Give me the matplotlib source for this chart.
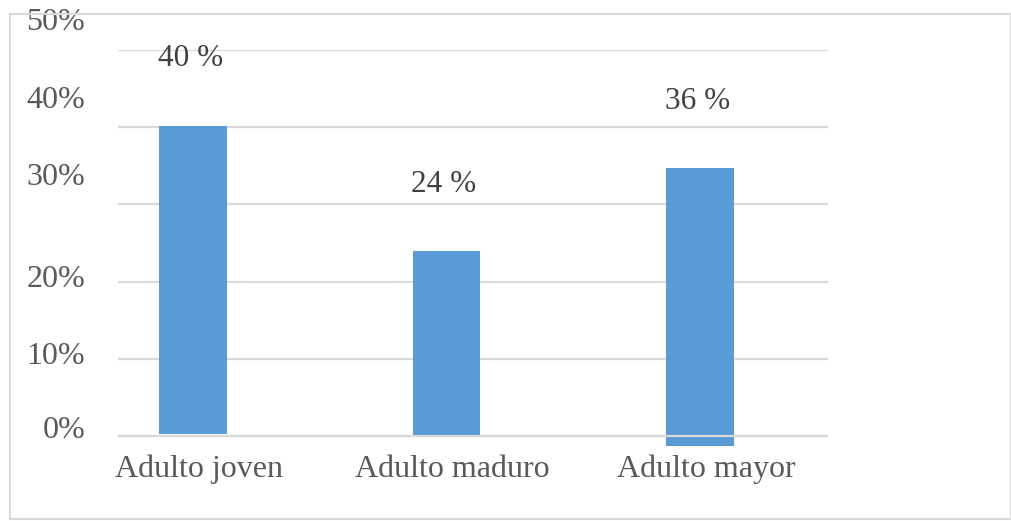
import numpy as np
import matplotlib.pyplot as plt
import matplotlib.transforms as mtransforms
from matplotlib.patches import Rectangle

# data
categories = ['Adulto joven', 'Adulto maduro', 'Adulto mayor']
values = [40, 24, 36]
value_labels = ['40 %', '24 %', '36 %']
# the source picture is a little skewed: bars do not all start on the 0 line
bar_bottoms = [0.2, 0.0, -1.3]
y_ticks = [0, 10, 20, 30, 40, 50]
y_tick_labels = ['0%', '10%', '20%', '30%', '40%', '50%']

plt.rcParams['font.family'] = ['Liberation Serif', 'DejaVu Serif']
text_color = '#595959'
label_color = '#404040'
grid_color = '#D9D9D9'
bar_color = '#5B9BD5'
fs = 23

W, H = 1011, 521
fig = plt.figure(figsize=(W / 100, H / 100), dpi=100, facecolor='w')

# outer chart border
fig.patches.append(Rectangle((10 / W, 1 - 519 / H), (1011 - 10) / W, (519 - 14) / H,
                             transform=fig.transFigure, fill=False,
                             edgecolor=grid_color, lw=1.5))

ax = fig.add_axes([118 / W, 1 - 451.4 / H, (828 - 118) / W, (451.4 - 50) / H])
ax.set_facecolor('none')

x = np.arange(len(categories))
ax.bar(x, values, width=0.268, bottom=bar_bottoms, color=bar_color, zorder=2)

ax.set_xlim(-0.296, 2.505)
ax.set_ylim(-2, 50)
ax.set_yticks(y_ticks)
ax.yaxis.grid(True, color=grid_color, lw=1.6, zorder=1)
ax.set_axisbelow(True)
ax.axhline(0, color=grid_color, lw=1.6, zorder=3)
ax.set_xticks([])
ax.tick_params(left=False, labelleft=False)
for spine in ax.spines.values():
    spine.set_visible(False)

# y labels (shifted like in the source picture)
y_shift = [5, 2, 2, 27, 27, 27]
blend = mtransforms.blended_transform_factory(ax.transAxes, ax.transData)
for val, lab, dy in zip(y_ticks, y_tick_labels, y_shift):
    off = mtransforms.ScaledTranslation(-33 / 100, dy / 100, fig.dpi_scale_trans)
    ax.text(0, val, lab, transform=blend + off, ha='right', va='center',
            fontsize=fs, color=text_color)

# category labels
blend_x = mtransforms.blended_transform_factory(ax.transData, ax.transAxes)
for xi, cat in zip(x, categories):
    off = mtransforms.ScaledTranslation(6 / 100, -18 / 100, fig.dpi_scale_trans)
    ax.text(xi, 0, cat, transform=blend_x + off, ha='center', va='center',
            fontsize=fs, color=text_color)

# value labels above bars
for xi, v, b, lab in zip(x, values, bar_bottoms, value_labels):
    ax.annotate(lab, xy=(xi, v + b), xytext=(-2, 48), textcoords='offset points',
                ha='center', va='center', fontsize=fs - 0.5, color=label_color)

fig.savefig('out.png', dpi=100, facecolor='w')
